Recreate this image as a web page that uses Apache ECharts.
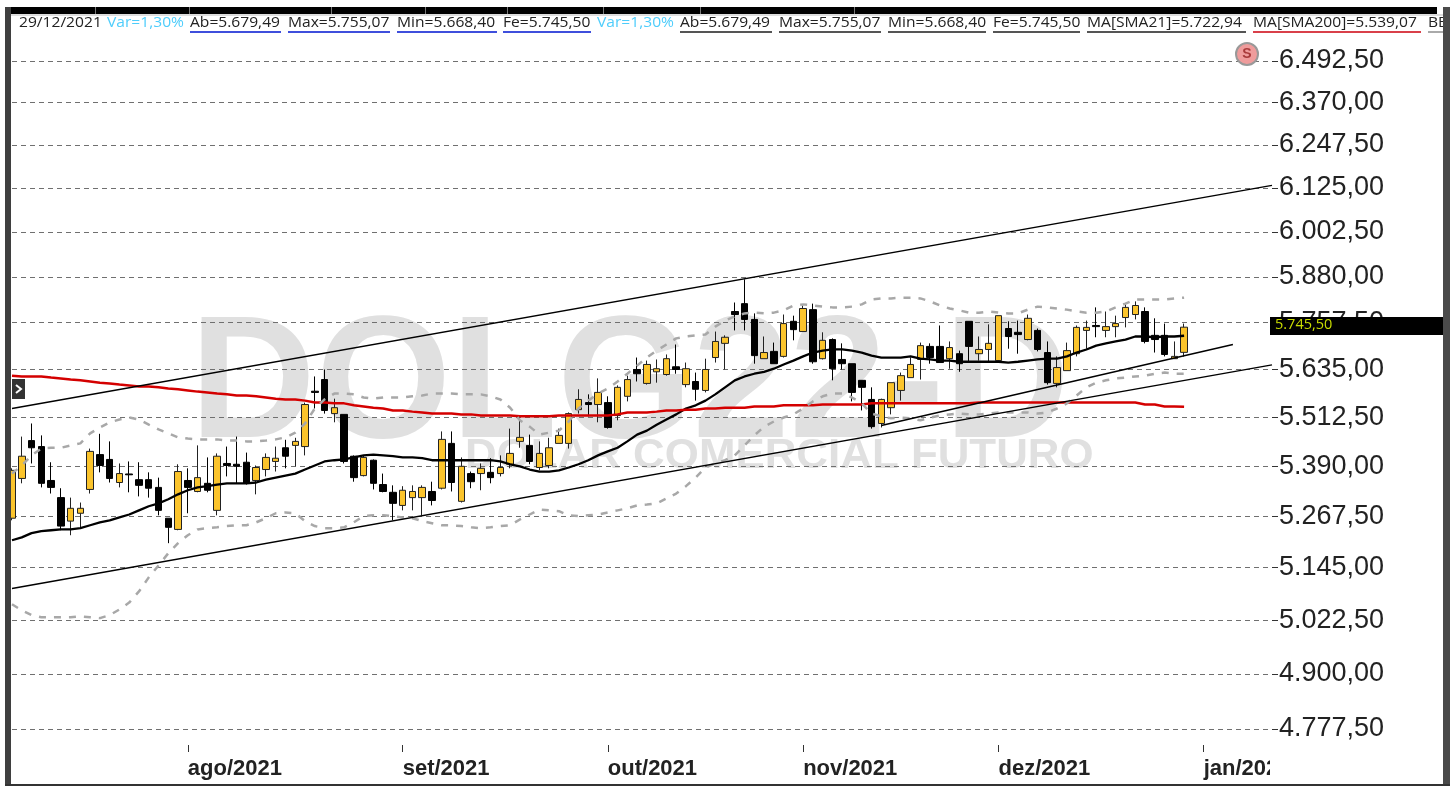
<!DOCTYPE html>
<html>
<head>
<meta charset="utf-8">
<title>DOLG22-D</title>
<style>
  html, body { margin: 0; padding: 0; background: #fff; }
  #chart { width: 1450px; height: 786px; }
</style>
<script src="https://cdn.jsdelivr.net/npm/echarts@6/dist/echarts.min.js"></script>
</head>
<body>
<div id="chart"></div>
<script>
// Trading days shown on the chart (the last ones are the empty space on the right)
const categories = [
    '07/07/2021','08/07/2021','09/07/2021','12/07/2021','13/07/2021','14/07/2021','15/07/2021','16/07/2021','19/07/2021','20/07/2021',
    '21/07/2021','22/07/2021','23/07/2021','26/07/2021','27/07/2021','28/07/2021','29/07/2021','30/07/2021','02/08/2021','03/08/2021',
    '04/08/2021','05/08/2021','06/08/2021','09/08/2021','10/08/2021','11/08/2021','12/08/2021','13/08/2021','16/08/2021','17/08/2021',
    '18/08/2021','19/08/2021','20/08/2021','23/08/2021','24/08/2021','25/08/2021','26/08/2021','27/08/2021','30/08/2021','31/08/2021',
    '01/09/2021','02/09/2021','03/09/2021','06/09/2021','08/09/2021','09/09/2021','10/09/2021','13/09/2021','14/09/2021','15/09/2021',
    '16/09/2021','17/09/2021','20/09/2021','21/09/2021','22/09/2021','23/09/2021','24/09/2021','27/09/2021','28/09/2021','29/09/2021',
    '30/09/2021','01/10/2021','04/10/2021','05/10/2021','06/10/2021','07/10/2021','08/10/2021','11/10/2021','13/10/2021','14/10/2021',
    '15/10/2021','18/10/2021','19/10/2021','20/10/2021','21/10/2021','22/10/2021','25/10/2021','26/10/2021','27/10/2021','28/10/2021',
    '29/10/2021','01/11/2021','03/11/2021','04/11/2021','05/11/2021','08/11/2021','09/11/2021','10/11/2021','11/11/2021','12/11/2021',
    '16/11/2021','17/11/2021','18/11/2021','19/11/2021','22/11/2021','23/11/2021','24/11/2021','25/11/2021','26/11/2021','29/11/2021',
    '30/11/2021','01/12/2021','02/12/2021','03/12/2021','06/12/2021','07/12/2021','08/12/2021','09/12/2021','10/12/2021','13/12/2021',
    '14/12/2021','15/12/2021','16/12/2021','17/12/2021','20/12/2021','21/12/2021','22/12/2021','23/12/2021','27/12/2021','28/12/2021',
    '29/12/2021','30/12/2021','03/01/2022','04/01/2022','05/01/2022','06/01/2022','07/01/2022','10/01/2022','11/01/2022','12/01/2022'
];
const monthNames = ['jan', 'fev', 'mar', 'abr', 'mai', 'jun', 'jul', 'ago', 'set', 'out', 'nov', 'dez'];

const priceTicks = [
    4777.5, 4900, 5022.5, 5145, 5267.5, 5390, 5512.5, 5635,
    5757.5, 5880, 6002.5, 6125, 6247.5, 6370, 6492.5
];

const opens = [
    5263,5360,5454,5439,5355,5313,5256,5275,5333,5419,
    5407,5350,5371,5357,5357,5338,5263,5236,5355,5328,
    5348,5282,5397,5395,5400,5355,5382,5402,5436,5442,
    5439,5579,5609,5522,5520,5415,5367,5405,5345,5326,
    5294,5313,5313,5328,5336,5447,5304,5372,5372,5375,
    5372,5395,5452,5442,5387,5392,5447,5447,5532,5550,
    5545,5550,5517,5566,5635,5599,5629,5622,5642,5596,
    5604,5581,5666,5703,5787,5808,5766,5663,5682,5669,
    5761,5734,5792,5663,5713,5661,5650,5607,5558,5497,
    5537,5581,5614,5661,5695,5695,5663,5676,5761,5676,
    5687,5658,5742,5732,5713,5737,5679,5599,5632,5676,
    5737,5750,5737,5747,5771,5779,5787,5724,5724,5663,
    5679.49
];
const closes = [
    5380,5415,5436,5348,5338,5244,5287,5287,5427,5392,
    5360,5372,5369,5343,5336,5282,5241,5377,5338,5362,
    5331,5415,5392,5390,5348,5387,5412,5410,5415,5452,
    5545,5576,5530,5537,5402,5362,5412,5348,5328,5299,
    5331,5328,5338,5306,5457,5350,5390,5352,5385,5362,
    5387,5422,5462,5402,5422,5436,5467,5522,5558,5545,
    5576,5487,5589,5609,5624,5648,5637,5663,5635,5637,
    5584,5635,5708,5719,5779,5766,5671,5679,5650,5755,
    5739,5795,5655,5711,5637,5650,5576,5589,5489,5558,
    5601,5619,5648,5697,5666,5653,5692,5650,5695,5687,
    5703,5776,5721,5726,5769,5687,5601,5640,5684,5745,
    5745,5747,5747,5755,5798,5803,5708,5713,5674,5669,
    5745.5
];
const lows = [
    5258,5348,5397,5338,5323,5234,5222,5239,5323,5375,
    5350,5338,5326,5316,5313,5270,5203,5234,5275,5326,
    5326,5270,5365,5348,5345,5321,5365,5377,5385,5390,
    5417,5535,5522,5500,5397,5352,5365,5333,5326,5258,
    5282,5282,5270,5294,5333,5328,5301,5336,5331,5348,
    5365,5385,5436,5395,5380,5385,5447,5434,5522,5515,
    5500,5484,5505,5553,5604,5596,5601,5619,5624,5589,
    5555,5576,5653,5635,5737,5737,5650,5663,5650,5666,
    5711,5734,5650,5661,5607,5635,5553,5530,5484,5487,
    5520,5555,5614,5609,5650,5653,5637,5629,5653,5658,
    5655,5655,5689,5676,5711,5682,5596,5589,5632,5669,
    5689,5719,5719,5719,5745,5766,5703,5679,5669,5663,
    5668.4
];
const highs = [
    5385,5464,5497,5467,5400,5336,5313,5301,5434,5471,
    5452,5397,5402,5400,5375,5362,5263,5395,5385,5442,
    5412,5422,5439,5464,5424,5392,5422,5439,5456,5461,
    5550,5617,5635,5560,5520,5417,5417,5407,5372,5343,
    5341,5343,5343,5352,5477,5477,5412,5377,5397,5410,
    5417,5484,5515,5469,5452,5461,5484,5525,5584,5571,
    5612,5566,5594,5619,5666,5658,5661,5674,5700,5653,
    5627,5663,5734,5724,5811,5873,5782,5721,5705,5779,
    5776,5803,5808,5732,5716,5703,5650,5607,5589,5560,
    5601,5627,5666,5705,5703,5750,5708,5684,5761,5721,
    5753,5776,5761,5763,5779,5742,5708,5669,5705,5750,
    5763,5798,5787,5776,5806,5814,5798,5769,5755,5708,
    5755.07
];

const sma21 = [
    5210,5217,5227,5232,5234,5236,5236,5239,5246,5253,
    5258,5265,5272,5282,5292,5299,5309,5321,5331,5338,
    5341,5345,5348,5348,5348,5350,5357,5362,5367,5372,
    5382,5392,5402,5405,5407,5412,5417,5419,5417,5415,
    5412,5412,5410,5405,5405,5405,5405,5405,5405,5405,
    5402,5395,5390,5382,5377,5377,5380,5387,5395,5405,
    5417,5427,5436,5452,5469,5479,5494,5507,5520,5535,
    5543,5555,5571,5589,5607,5617,5624,5629,5637,5648,
    5658,5669,5679,5684,5687,5687,5684,5679,5671,5666,
    5666,5666,5669,5663,5661,5658,5658,5655,5655,5655,
    5655,5655,5653,5655,5658,5661,5663,5663,5669,5679,
    5687,5697,5703,5708,5713,5721,5721,5719,5721,5721,
    5722.94
];
const sma200 = [
    5619,5617,5617,5617,5614,5612,5609,5607,5604,5601,
    5599,5596,5594,5591,5591,5589,5586,5584,5581,5578,
    5576,5573,5571,5568,5568,5566,5563,5560,5558,5558,
    5555,5550,5550,5548,5548,5543,5540,5537,5535,5530,
    5530,5527,5525,5522,5522,5522,5520,5520,5517,5517,
    5517,5517,5515,5515,5515,5515,5517,5517,5517,5517,
    5517,5517,5520,5525,5525,5525,5527,5530,5530,5532,
    5532,5535,5535,5537,5537,5537,5540,5540,5540,5543,
    5543,5543,5543,5545,5545,5545,5545,5545,5548,5548,
    5548,5548,5548,5548,5548,5548,5548,5548,5548,5550,
    5550,5550,5550,5550,5550,5550,5550,5550,5550,5550,
    5550,5550,5550,5550,5550,5550,5545,5545,5540,5540,
    5539.07
];
const bandUpper = [
    5372,5392,5417,5434,5436,5436,5442,5447,5472,5487,
    5500,5507,5512,5507,5494,5482,5472,5462,5459,5457,
    5457,5457,5454,5454,5452,5452,5454,5457,5462,5474,
    5497,5535,5558,5573,5573,5571,5563,5560,5563,5563,
    5563,5566,5568,5573,5573,5573,5571,5571,5571,5566,
    5558,5537,5505,5489,5469,5474,5479,5502,5535,5555,
    5573,5586,5604,5624,5645,5666,5684,5700,5716,5721,
    5724,5726,5747,5763,5774,5782,5784,5782,5784,5790,
    5803,5806,5803,5800,5798,5798,5800,5806,5819,5822,
    5822,5824,5824,5822,5814,5803,5795,5790,5784,5784,
    5787,5784,5782,5782,5792,5800,5798,5795,5792,5787,
    5784,5784,5787,5798,5808,5819,5819,5819,5819,5822,
    5824
];
const bandLower = [
    5059,5045,5034,5029,5029,5029,5029,5031,5029,5027,
    5034,5047,5063,5089,5122,5150,5179,5203,5222,5236,
    5239,5241,5244,5246,5246,5253,5263,5275,5277,5275,
    5256,5244,5239,5239,5241,5253,5268,5270,5270,5268,
    5265,5263,5256,5251,5246,5246,5244,5241,5239,5241,
    5244,5246,5260,5272,5284,5282,5280,5270,5268,5270,
    5272,5277,5282,5287,5294,5296,5299,5311,5323,5341,
    5362,5387,5397,5405,5417,5442,5467,5489,5502,5512,
    5520,5535,5553,5566,5573,5573,5563,5548,5522,5515,
    5510,5512,5510,5505,5512,5517,5520,5522,5520,5520,
    5522,5525,5525,5525,5525,5522,5525,5535,5548,5568,
    5589,5601,5607,5612,5614,5617,5619,5624,5627,5624,
    5624
];

// Hand drawn trend lines: [category index, price]
const channelTop = [[0, 5535], [129, 6132]];
const channelBottom = [[0, 5096], [129, 5647]];
const channelInner = [[89, 5492], [125, 5700]];

// Header strip
const headerTexts = [
    { text: '29/12/2021', color: '#222', x: 19, w: 81 },
    { text: 'Var=1,30%', color: '#4fcdfb', x: 107, w: 77 },
    { text: 'Ab=5.679,49', color: '#222', x: 190, w: 91, line: '#3f4fdc' },
    { text: 'Max=5.755,07', color: '#222', x: 288, w: 102, line: '#3f4fdc' },
    { text: 'Min=5.668,40', color: '#222', x: 397, w: 100, line: '#3f4fdc' },
    { text: 'Fe=5.745,50', color: '#222', x: 503, w: 88, line: '#3f4fdc' },
    { text: 'Var=1,30%', color: '#4fcdfb', x: 597, w: 77 },
    { text: 'Ab=5.679,49', color: '#222', x: 680, w: 92, line: '#555' },
    { text: 'Max=5.755,07', color: '#222', x: 779, w: 102, line: '#555' },
    { text: 'Min=5.668,40', color: '#222', x: 888, w: 98, line: '#555' },
    { text: 'Fe=5.745,50', color: '#222', x: 993, w: 87, line: '#555' },
    { text: 'MA[SMA21]=5.722,94', color: '#222', x: 1087, w: 159, line: '#555' },
    { text: 'MA[SMA200]=5.539,07', color: '#222', x: 1253, w: 168, line: '#d9404a' },
    { text: 'BB', color: '#222', x: 1428, w: 18, line: '#aaa' }
];
const tabSeparators = [95, 189, 331, 425, 507, 603, 700, 854];

function formatPrice(value) {
    return value.toLocaleString('pt-BR', { minimumFractionDigits: 2, maximumFractionDigits: 2 });
}

// A month tick sits on the first trading day of that month
function isMonthStart(index) {
    if (index === 0) return false;
    return categories[index].slice(3, 5) !== categories[index - 1].slice(3, 5);
}

function buildHeader() {
    const items = [];
    headerTexts.forEach(function (h) {
        items.push({
            type: 'text', x: h.x, y: 15, z: 60, scaleX: 1.04,
            style: { text: h.text, fill: h.color, font: '15px "Open Sans"' }
        });
        if (h.line) {
            items.push({ type: 'rect', z: 60, shape: { x: h.x, y: 31, width: h.w, height: 2 }, style: { fill: h.line } });
        }
    });
    return items;
}

function buildFrame() {
    const items = [
        { type: 'rect', z: 70, shape: { x: 11, y: 7, width: 1426, height: 7 }, style: { fill: '#000' } },
        { type: 'rect', z: 70, shape: { x: 11, y: 14, width: 1432, height: 2 }, style: { fill: '#ddd' } },
        { type: 'rect', z: 70, shape: { x: 5, y: 7, width: 6, height: 777 }, style: { fill: '#3f3f3f' } },
        { type: 'rect', z: 70, shape: { x: 1443, y: 7, width: 7, height: 779 }, style: { fill: '#4a4a4a' } },
        { type: 'rect', z: 70, shape: { x: 5, y: 784, width: 1445, height: 2 }, style: { fill: '#333' } },
        // hides the end of the last month label, as in the platform
        { type: 'rect', z: 50, shape: { x: 1270, y: 752, width: 173, height: 32 }, style: { fill: '#fff' } },
        // last price tag
        { type: 'rect', z: 50, shape: { x: 1270, y: 317, width: 173, height: 18 }, style: { fill: '#000' } },
        {
            type: 'text', x: 1275, y: 317, z: 51,
            style: { text: formatPrice(closes[closes.length - 1]), fill: '#c9dc00', font: '14.5px "Open Sans"' }
        },
        // collapse button
        { type: 'rect', z: 50, shape: { x: 12, y: 379, width: 13, height: 20 }, style: { fill: '#333' } },
        {
            type: 'polyline', z: 51,
            shape: { points: [[16, 385], [21, 389], [16, 393]] },
            style: { stroke: '#fff', lineWidth: 2, fill: null }
        },
        // "S" marker
        {
            type: 'circle', z: 50,
            shape: { cx: 1247, cy: 54, r: 11 },
            style: { fill: '#ef9c9c', stroke: '#999', lineWidth: 2 }
        },
        {
            type: 'text', x: 1247, y: 54, z: 51,
            style: { text: 'S', fill: '#a83a3a', font: 'bold 14px "Liberation Sans"', align: 'center', verticalAlign: 'middle' }
        }
    ];
    tabSeparators.forEach(function (x) {
        items.push({ type: 'rect', z: 71, shape: { x: x, y: 7, width: 1, height: 7 }, style: { fill: '#777' } });
    });
    return items;
}

// Platform watermark, behind the grid
const watermark = [
    {
        type: 'text', x: 190, y: 302, z: -10,
        style: { text: 'DOLG22-D', fill: '#e0e0e0', font: 'bold 174px "Liberation Sans"' }
    },
    {
        type: 'text', x: 465, y: 435, z: -10, scaleX: 1.02,
        style: { text: 'DOLAR COMERCIAL FUTURO', fill: '#e0e0e0', font: 'bold 43px "Liberation Sans"' }
    }
];

const candleData = categories.slice(0, opens.length).map(function (day, i) {
    return [opens[i], closes[i], lows[i], highs[i]];
});

function lineSeries(name, data, color, width, dashed) {
    return {
        name: name,
        type: 'line',
        data: data,
        showSymbol: false,
        silent: true,
        lineStyle: { color: color, width: width, type: dashed ? [7, 8] : 'solid' },
        z: 5
    };
}

const chart = echarts.init(document.getElementById('chart'));
chart.setOption({
    animation: false,
    backgroundColor: '#fff',
    grid: { left: 12, right: 178, top: 33, bottom: 41 },
    xAxis: {
        type: 'category',
        data: categories,
        boundaryGap: false,
        axisLine: { show: false },
        axisTick: { show: true, interval: isMonthStart, length: 7, lineStyle: { color: '#333', width: 1 } },
        axisLabel: {
            interval: isMonthStart,
            margin: 13,
            align: 'left',
            color: '#222',
            fontFamily: 'Liberation Sans',
            fontWeight: 'bold',
            fontSize: 22,
            formatter: function (value) {
                return monthNames[Number(value.slice(3, 5)) - 1] + '/' + value.slice(6);
            }
        },
        splitLine: { show: false }
    },
    yAxis: {
        type: 'log',
        position: 'right',
        min: 4742.5,
        max: 6576.5,
        axisLine: { show: false },
        axisTick: { show: true, length: 6, customValues: priceTicks, lineStyle: { color: '#333' } },
        axisLabel: {
            customValues: priceTicks,
            margin: 7,
            padding: [3, 0, 0, 0],
            color: '#222',
            fontFamily: 'Liberation Sans',
            fontSize: 27,
            formatter: formatPrice
        },
        splitLine: { show: true, lineStyle: { color: '#707070', width: 1, type: [5, 4] } }
    },
    graphic: { elements: watermark.concat(buildHeader(), buildFrame()) },
    series: [
        {
            name: 'DOLG22',
            type: 'candlestick',
            data: candleData,
            barWidth: 7,
            itemStyle: {
                color: '#fbc42c',
                color0: '#000',
                borderColor: '#222',
                borderColor0: '#000',
                borderWidth: 1
            },
            z: 3
        },
        lineSeries('SMA21', sma21, '#000', 2.3),
        lineSeries('SMA200', sma200, '#d40000', 2.5),
        lineSeries('Banda superior', bandUpper, '#a8a8a8', 2.5, true),
        lineSeries('Banda inferior', bandLower, '#a8a8a8', 2.5, true),
        lineSeries('Canal superior', channelTop, '#000', 1.4),
        lineSeries('Canal inferior', channelBottom, '#000', 1.4),
        lineSeries('Canal interno', channelInner, '#000', 1.4)
    ]
});
</script>
</body>
</html>
